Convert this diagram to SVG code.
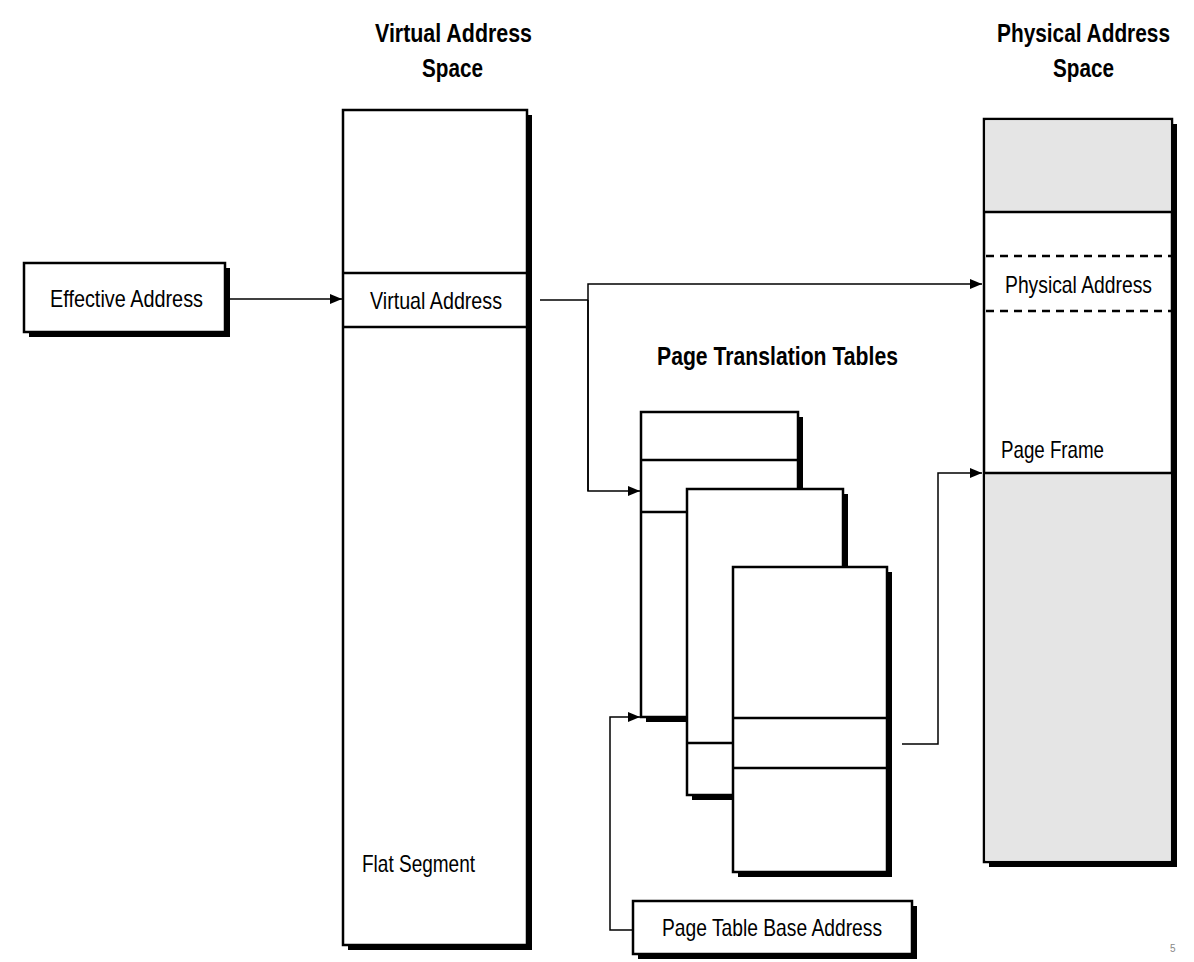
<svg xmlns="http://www.w3.org/2000/svg" width="1194" height="962" viewBox="0 0 1194 962">
<style>
  .box { fill: #ffffff; stroke: #000000; stroke-width: 2.5; }
  .grey { fill: #e5e5e5; stroke: none; }
  .shadow { fill: #000000; }
  .div { stroke: #000000; stroke-width: 2.5; fill: none; }
  .dash { stroke: #000000; stroke-width: 2.5; stroke-dasharray: 8 6; fill: none; }
  .conn { stroke: #000000; stroke-width: 1.5; fill: none; }
  .lbl { font-family: "Liberation Sans", Arial, sans-serif; font-size: 24px; fill: #000000; }
  .ttl { font-family: "Liberation Sans", Arial, sans-serif; font-size: 26px; font-weight: bold; fill: #000000; }
</style>
<defs>
  <marker id="arrow" markerWidth="13" markerHeight="11" refX="12" refY="5" orient="auto" markerUnits="userSpaceOnUse">
    <path d="M0,0 L12,5 L0,10 z" fill="#000000"/>
  </marker>
</defs>
<rect width="1194" height="962" fill="#ffffff"/>

<g id="titles">
  <text class="ttl" x="375" y="42" textLength="157" lengthAdjust="spacingAndGlyphs">Virtual Address</text>
  <text class="ttl" x="422" y="77" textLength="61" lengthAdjust="spacingAndGlyphs">Space</text>
  <text class="ttl" x="997" y="42" textLength="173" lengthAdjust="spacingAndGlyphs">Physical Address</text>
  <text class="ttl" x="1053" y="77" textLength="61" lengthAdjust="spacingAndGlyphs">Space</text>
  <text class="ttl" x="657" y="365" textLength="241" lengthAdjust="spacingAndGlyphs">Page Translation Tables</text>
</g>

<g id="effective-address">
  <rect class="shadow" x="29" y="268" width="201" height="69"/>
  <rect class="box" x="24" y="263" width="201" height="69"/>
  <text class="lbl" x="50" y="307" textLength="153" lengthAdjust="spacingAndGlyphs">Effective Address</text>
</g>

<g id="virtual-address-space">
  <rect class="shadow" x="348" y="115" width="184" height="835"/>
  <rect class="box" x="343" y="110" width="184" height="835"/>
  <line class="div" x1="343" y1="273" x2="527" y2="273"/>
  <line class="div" x1="343" y1="327" x2="527" y2="327"/>
  <text class="lbl" x="370" y="309" textLength="132" lengthAdjust="spacingAndGlyphs">Virtual Address</text>
  <text class="lbl" x="362" y="872" textLength="113" lengthAdjust="spacingAndGlyphs">Flat Segment</text>
</g>

<g id="physical-address-space">
  <rect class="shadow" x="989" y="124" width="188" height="743"/>
  <rect class="box" x="984" y="119" width="188" height="743"/>
  <rect class="grey" x="985.25" y="120.25" width="185.5" height="92"/>
  <rect class="grey" x="985.25" y="473" width="185.5" height="387.75"/>
  <line class="div" x1="984" y1="212" x2="1172" y2="212"/>
  <line class="dash" x1="986" y1="256" x2="1172" y2="256"/>
  <line class="dash" x1="986" y1="311" x2="1172" y2="311"/>
  <line class="div" x1="984" y1="473" x2="1172" y2="473"/>
  <text class="lbl" x="1005" y="293" textLength="147" lengthAdjust="spacingAndGlyphs">Physical Address</text>
  <text class="lbl" x="1001" y="458" textLength="103" lengthAdjust="spacingAndGlyphs">Page Frame</text>
</g>

<g id="page-table-1">
  <rect class="shadow" x="646" y="417" width="157" height="305"/>
  <rect class="box" x="641" y="412" width="157" height="305"/>
  <line class="div" x1="641" y1="460" x2="798" y2="460"/>
  <line class="div" x1="641" y1="512" x2="798" y2="512"/>
</g>

<g id="page-table-2">
  <rect class="shadow" x="692" y="494" width="156" height="306"/>
  <rect class="box" x="687" y="489" width="156" height="306"/>
  <line class="div" x1="687" y1="743" x2="843" y2="743"/>
</g>

<g id="page-table-3">
  <rect class="shadow" x="738" y="572" width="154" height="305"/>
  <rect class="box" x="733" y="567" width="154" height="305"/>
  <line class="div" x1="733" y1="718" x2="887" y2="718"/>
  <line class="div" x1="733" y1="768" x2="887" y2="768"/>
</g>

<g id="page-table-base-address">
  <rect class="shadow" x="638" y="906" width="279" height="53"/>
  <rect class="box" x="633" y="901" width="279" height="53"/>
  <text class="lbl" x="662" y="936" textLength="220" lengthAdjust="spacingAndGlyphs">Page Table Base Address</text>
</g>

<g id="connectors">
  <line class="conn" x1="230" y1="299" x2="342" y2="299" marker-end="url(#arrow)"/>
  <line class="conn" x1="540" y1="300" x2="588" y2="300"/>
  <polyline class="conn" points="588,491 588,284 982,284" marker-end="url(#arrow)"/>
  <polyline class="conn" points="588,300 588,491 640,491" marker-end="url(#arrow)"/>
  <polyline class="conn" points="633,930 610,930 610,717 640,717" marker-end="url(#arrow)"/>
  <polyline class="conn" points="902,744 938,744 938,473 982,473" marker-end="url(#arrow)"/>
</g>

<text x="1170" y="952" font-family="Liberation Sans, Arial, sans-serif" font-size="10" fill="#888888">5</text>
</svg>
